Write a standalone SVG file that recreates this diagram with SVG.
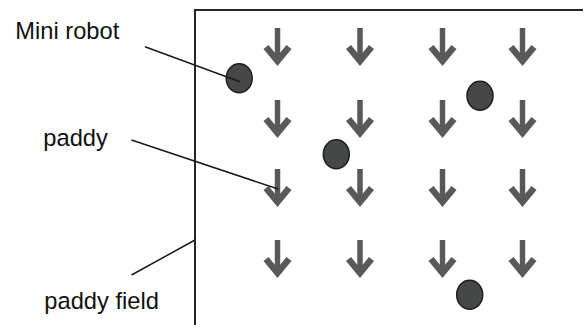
<svg xmlns="http://www.w3.org/2000/svg" width="584" height="325" viewBox="0 0 584 325">
  <style>
    .label { font-family: "Liberation Sans", Arial, sans-serif; font-size: 23.7px; fill: #111; }
    .leader { stroke: #1a1a1a; stroke-width: 1.5; fill: none; }
    .field { stroke: #262626; stroke-width: 2; fill: none; }
    .robot { fill: #464847; stroke: #1e1e1e; stroke-width: 1.5; }
    .flow { stroke: #595959; fill: none; }
  </style>
  <defs>
    <!-- downward arrow, origin at top of shaft -->
    <g id="down">
      <path class="flow" d="M0,0 V33" stroke-width="5.5"/>
      <path class="flow" d="M-11.5,19 L0,33 L11.5,19" stroke-width="6.5" stroke-linejoin="miter"/>
    </g>
  </defs>

  <rect width="584" height="325" fill="#fff"/>

  <!-- field border (left and top edges) -->
  <g id="paddy-field">
    <path class="field" d="M195,325 V10 H583"/>
  </g>

  <!-- grid of paddy rows -->
  <g id="paddy">
    <use href="#down" x="277.5" y="28"/>
    <use href="#down" x="360" y="28"/>
    <use href="#down" x="442.5" y="28"/>
    <use href="#down" x="522.5" y="28"/>
    <use href="#down" x="277.5" y="100"/>
    <use href="#down" x="360" y="100"/>
    <use href="#down" x="442.5" y="100"/>
    <use href="#down" x="522.5" y="100"/>
    <use href="#down" x="277.5" y="169"/>
    <use href="#down" x="360" y="169"/>
    <use href="#down" x="442.5" y="169"/>
    <use href="#down" x="522.5" y="169"/>
    <use href="#down" x="277.5" y="240"/>
    <use href="#down" x="360" y="240"/>
    <use href="#down" x="442.5" y="240"/>
    <use href="#down" x="522.5" y="240"/>
  </g>

  <!-- robots -->
  <g id="robot-1"><ellipse class="robot" cx="239.2" cy="78.3" rx="13" ry="14.5"/></g>
  <g id="robot-2"><ellipse class="robot" cx="480" cy="95.8" rx="13" ry="14.5"/></g>
  <g id="robot-3"><ellipse class="robot" cx="336.3" cy="154.2" rx="13" ry="14.5"/></g>
  <g id="robot-4"><ellipse class="robot" cx="469.7" cy="294.7" rx="13" ry="14.5"/></g>

  <!-- labels -->
  <g id="label-robot"><text class="label" x="15.3" y="38.5">Mini robot</text></g>
  <g id="label-paddy"><text class="label" x="43.3" y="145.8">paddy</text></g>
  <g id="label-field"><text class="label" x="44.3" y="309">paddy field</text></g>

  <!-- leader lines -->
  <g id="connectors">
    <line class="leader" x1="145" y1="46.7" x2="240" y2="81.7"/>
    <line class="leader" x1="131.5" y1="140" x2="278" y2="189"/>
    <line class="leader" x1="131.5" y1="275" x2="195" y2="240"/>
  </g>
</svg>
